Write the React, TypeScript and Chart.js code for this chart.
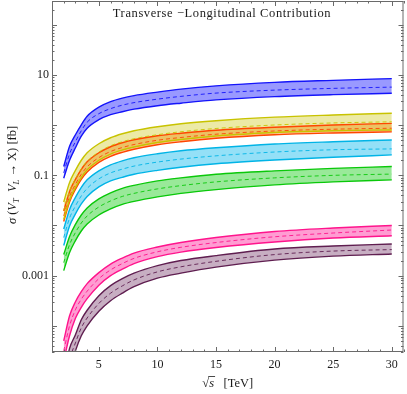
import React, { useEffect, useRef } from "react";
import { Chart, registerables } from "chart.js";

Chart.register(...registerables);

// sqrt(s) in TeV
const energies = [2, 2.5, 3, 3.5, 4, 5, 6, 7, 8, 10, 12, 15, 20, 25, 30];

// cross sections in fb (upper edge, central dashed, lower edge)
const blueUpper = [0.150, 0.380, 0.646, 1.02, 1.51, 2.29, 2.95, 3.47, 3.89, 4.57, 5.25, 6.10, 7.16, 7.85, 8.51];
const blueCenter = [0.112, 0.269, 0.468, 0.776, 1.15, 1.70, 2.14, 2.51, 2.82, 3.31, 3.76, 4.37, 5.01, 5.43, 5.75];
const blueLower = [0.0879, 0.200, 0.355, 0.603, 0.871, 1.29, 1.62, 1.86, 2.09, 2.45, 2.75, 3.20, 3.72, 4.07, 4.33];

const yellowUpper = [0.0295, 0.0724, 0.126, 0.200, 0.282, 0.427, 0.562, 0.676, 0.776, 0.933, 1.07, 1.23, 1.45, 1.60, 1.73];
const yellowCenter = [0.0200, 0.0490, 0.0851, 0.135, 0.191, 0.292, 0.389, 0.468, 0.537, 0.646, 0.741, 0.861, 1.01, 1.11, 1.17];
const yellowLower = [0.0132, 0.0324, 0.0575, 0.0912, 0.129, 0.200, 0.266, 0.320, 0.367, 0.452, 0.519, 0.610, 0.716, 0.776, 0.805];

const orangeUpper = [0.0195, 0.0479, 0.0832, 0.132, 0.186, 0.282, 0.372, 0.447, 0.513, 0.617, 0.692, 0.794, 0.912, 1.01, 1.09];
const orangeCenter = [0.0155, 0.0380, 0.0661, 0.105, 0.148, 0.226, 0.299, 0.359, 0.412, 0.501, 0.569, 0.661, 0.767, 0.832, 0.871];
const orangeLower = [0.0120, 0.0295, 0.0525, 0.0832, 0.117, 0.182, 0.240, 0.288, 0.331, 0.407, 0.468, 0.550, 0.646, 0.700, 0.735];

const cyanUpper = [0.00851, 0.0209, 0.0363, 0.0575, 0.0813, 0.123, 0.162, 0.195, 0.224, 0.269, 0.309, 0.355, 0.422, 0.468, 0.508];
const cyanCenter = [0.00575, 0.0141, 0.0245, 0.0389, 0.0550, 0.0851, 0.112, 0.133, 0.153, 0.184, 0.211, 0.245, 0.292, 0.324, 0.337];
const cyanLower = [0.00398, 0.00977, 0.0170, 0.0269, 0.0380, 0.0589, 0.0776, 0.0912, 0.105, 0.126, 0.145, 0.170, 0.202, 0.229, 0.256];

const greenUpper = [0.00263, 0.00603, 0.0105, 0.0162, 0.0224, 0.0339, 0.0447, 0.0550, 0.0631, 0.0776, 0.0891, 0.105, 0.123, 0.138, 0.150];
const greenCenter = [0.00182, 0.00417, 0.00724, 0.0112, 0.0155, 0.0234, 0.0309, 0.0380, 0.0437, 0.0537, 0.0624, 0.0741, 0.0891, 0.100, 0.106];
const greenLower = [0.00126, 0.00288, 0.00501, 0.00776, 0.0107, 0.0162, 0.0214, 0.0263, 0.0302, 0.0372, 0.0437, 0.0519, 0.0646, 0.0741, 0.0813];

const pinkUpper = [5.01e-5, 1.58e-4, 3.02e-4, 4.79e-4, 6.92e-4, 1.15e-3, 1.70e-3, 2.24e-3, 2.82e-3, 3.72e-3, 4.57e-3, 5.75e-3, 7.59e-3, 8.91e-3, 0.0100];
const pinkCenter = [3.16e-5, 1.0e-4, 2.09e-4, 3.39e-4, 4.90e-4, 8.71e-4, 1.30e-3, 1.74e-3, 2.21e-3, 2.99e-3, 3.67e-3, 4.57e-3, 5.96e-3, 7.08e-3, 8.13e-3];
const pinkLower = [2.0e-5, 6.31e-5, 1.41e-4, 2.34e-4, 3.47e-4, 6.46e-4, 1.0e-3, 1.35e-3, 1.74e-3, 2.40e-3, 2.95e-3, 3.63e-3, 4.68e-3, 5.62e-3, 6.25e-3];

const purpleUpper = [1.0e-5, 3.55e-5, 6.61e-5, 1.32e-4, 2.04e-4, 3.98e-4, 6.31e-4, 8.71e-4, 1.12e-3, 1.58e-3, 2.0e-3, 2.51e-3, 3.39e-3, 3.89e-3, 4.27e-3];
const purpleCenter = [6.31e-6, 2.14e-5, 4.57e-5, 9.12e-5, 1.43e-4, 2.79e-4, 4.47e-4, 6.24e-4, 8.22e-4, 1.19e-3, 1.50e-3, 1.93e-3, 2.63e-3, 3.09e-3, 3.31e-3];
const purpleLower = [3.98e-6, 1.26e-5, 3.16e-5, 6.31e-5, 1.0e-4, 1.95e-4, 3.16e-4, 4.47e-4, 6.03e-4, 8.91e-4, 1.12e-3, 1.48e-3, 2.04e-3, 2.45e-3, 2.70e-3];

const xTickValues = [5, 10, 15, 20, 25, 30];
const yTickValues = [1e-4, 1e-3, 1e-2, 1e-1, 1, 10, 100];
const yTickLabels = ["", "0.001", "", "0.1", "", "10", ""];

const titleText = "Transverse \u2212Longitudinal Contribution";

const bands = [
  { upper: blueUpper, center: blueCenter, lower: blueLower, line: "rgb(20,20,250)", fill: "rgba(0,0,255,0.40)" },
  { upper: yellowUpper, center: yellowCenter, lower: yellowLower, line: "rgb(200,195,0)", fill: "rgba(205,200,20,0.38)" },
  { upper: orangeUpper, center: orangeCenter, lower: orangeLower, line: "rgb(255,70,0)", fill: "rgba(255,100,0,0.42)" },
  { upper: cyanUpper, center: cyanCenter, lower: cyanLower, line: "rgb(0,180,230)", fill: "rgba(0,180,235,0.42)" },
  { upper: greenUpper, center: greenCenter, lower: greenLower, line: "rgb(10,200,10)", fill: "rgba(0,200,0,0.40)" },
  { upper: pinkUpper, center: pinkCenter, lower: pinkLower, line: "rgb(255,20,140)", fill: "rgba(255,20,147,0.42)" },
  { upper: purpleUpper, center: purpleCenter, lower: purpleLower, line: "rgb(95,30,80)", fill: "rgba(100,30,85,0.36)" },
];

const SERIF = '"Liberation Serif", "Times New Roman", serif';

function drawSegments(ctx: CanvasRenderingContext2D, segs: { text: string; font: string; dy?: number }[], cx: number, cy: number) {
  let total = 0;
  for (const s of segs) {
    ctx.font = s.font;
    total += ctx.measureText(s.text).width;
  }
  let x = cx - total / 2;
  for (const s of segs) {
    ctx.font = s.font;
    ctx.fillText(s.text, x, cy + (s.dy || 0));
    x += ctx.measureText(s.text).width;
  }
}

const zeroPadding = (s: any) => {
  s.paddingTop = 0;
  s.paddingBottom = 0;
  s.paddingLeft = 0;
  s.paddingRight = 0;
};

const framePlugin = {
  id: "mmaFrame",
  afterDatasetsDraw(chart: any) {
    const { ctx, chartArea: a, scales } = chart;
    const xs = scales.x;
    const ys = scales.y;
    ctx.save();
    ctx.strokeStyle = "#6a6a6a";
    ctx.lineWidth = 1;
    ctx.strokeRect(a.left + 0.5, a.top + 0.5, a.right - a.left - 1, a.bottom - a.top - 1);
    ctx.beginPath();
    for (let v = 1; v <= 31; v++) {
      const px = Math.round(xs.getPixelForValue(v)) + 0.5;
      const len = v % 5 === 0 ? 5 : 2.5;
      ctx.moveTo(px, a.bottom);
      ctx.lineTo(px, a.bottom - len);
      ctx.moveTo(px, a.top);
      ctx.lineTo(px, a.top + len);
    }
    for (let e = -6; e <= 3; e++) {
      for (let m = 1; m <= 9; m++) {
        const v = m * Math.pow(10, e);
        if (v < ys.min || v > ys.max) continue;
        const py = Math.round(ys.getPixelForValue(v)) + 0.5;
        const len = m === 1 ? 5 : 2.5;
        ctx.moveTo(a.left, py);
        ctx.lineTo(a.left + len, py);
        ctx.moveTo(a.right, py);
        ctx.lineTo(a.right - len, py);
      }
    }
    ctx.stroke();
    ctx.restore();
  },
  afterDraw(chart: any) {
    const { ctx, chartArea: a } = chart;
    ctx.save();
    ctx.fillStyle = "#1a1a1a";
    ctx.textBaseline = "alphabetic";
    // plot title inside frame
    ctx.font = `12.5px ${SERIF}`;
    (ctx as any).letterSpacing = "0.6px";
    ctx.textAlign = "center";
    ctx.fillText(titleText, 222, 17);
    (ctx as any).letterSpacing = "0px";
    ctx.textAlign = "left";
    // y title
    ctx.save();
    ctx.translate(16, 175);
    ctx.rotate(-Math.PI / 2);
    const reg = `12.5px ${SERIF}`;
    const ita = `italic 12.5px ${SERIF}`;
    const sub = `italic 8.5px ${SERIF}`;
    drawSegments(ctx, [
      { text: "\u03c3", font: ita },
      { text: " (", font: reg },
      { text: "V", font: ita },
      { text: "T", font: sub, dy: 3 },
      { text: "  ", font: reg },
      { text: "V", font: ita },
      { text: "L", font: sub, dy: 3 },
      { text: " \u2192 X) [fb]", font: reg },
    ], 0, 0);
    ctx.restore();
    // x title
    const cx = (a.left + a.right) / 2;
    const base = 387;
    const segs = [
      { text: "\u221a", font: reg },
      { text: "s", font: ita },
      { text: "   [TeV]", font: reg },
    ];
    let total = 0;
    const widths: number[] = [];
    for (const s of segs) {
      ctx.font = s.font;
      const w = ctx.measureText(s.text).width;
      widths.push(w);
      total += w;
    }
    let x = cx - total / 2;
    ctx.font = segs[0].font;
    ctx.fillText(segs[0].text, x, base);
    const barStart = x + widths[0] - 1;
    x += widths[0];
    ctx.font = segs[1].font;
    ctx.fillText(segs[1].text, x, base);
    const barEnd = x + widths[1] + 1;
    x += widths[1];
    ctx.font = segs[2].font;
    ctx.fillText(segs[2].text, x, base);
    ctx.strokeStyle = "#1a1a1a";
    ctx.lineWidth = 0.8;
    ctx.beginPath();
    ctx.moveTo(barStart, base - 10.5);
    ctx.lineTo(barEnd, base - 10.5);
    ctx.stroke();
    ctx.restore();
  },
};

export default function App() {
  const canvasRef = useRef<HTMLCanvasElement | null>(null);

  useEffect(() => {
    if (!canvasRef.current) return;
    const datasets: any[] = [];
    bands.forEach((b) => {
      const pts = (arr: number[]) => energies.map((e, i) => ({ x: e, y: arr[i] }));
      datasets.push({
        data: pts(b.upper),
        borderColor: b.line,
        borderWidth: 1.4,
        pointRadius: 0,
        fill: false,
        cubicInterpolationMode: "monotone",
      });
      datasets.push({
        data: pts(b.lower),
        borderColor: b.line,
        borderWidth: 1.4,
        pointRadius: 0,
        fill: "-1",
        backgroundColor: b.fill,
        cubicInterpolationMode: "monotone",
      });
      datasets.push({
        data: pts(b.center),
        borderColor: b.line,
        borderWidth: 0.9,
        borderDash: [4, 3],
        pointRadius: 0,
        fill: false,
        cubicInterpolationMode: "monotone",
      });
    });

    const chart = new Chart(canvasRef.current, {
      type: "line",
      data: { datasets },
      options: {
        responsive: false,
        animation: false,
        devicePixelRatio: 1,
        layout: { padding: { top: 1, right: 3.5, left: 0, bottom: 0 } },
        plugins: {
          legend: { display: false },
          tooltip: { enabled: false },
          filler: { drawTime: "beforeDatasetsDraw" },
        },
        scales: {
          x: {
            type: "linear",
            min: 1,
            max: 31,
            grid: { display: false, drawTicks: false },
            border: { display: false },
            afterBuildTicks: (s: any) => {
              s.ticks = xTickValues.map((v) => ({ value: v }));
            },
            afterFit: (s: any) => {
              s.height = 42;
              zeroPadding(s);
            },
            ticks: {
              autoSkip: false,
              maxRotation: 0,
              padding: 6,
              color: "#1a1a1a",
              font: { family: SERIF, size: 12 },
              callback: (v: any) => String(v),
            },
          },
          y: {
            type: "logarithmic",
            min: 3e-5,
            max: 300,
            grid: { display: false, drawTicks: false },
            border: { display: false },
            afterBuildTicks: (s: any) => {
              s.ticks = yTickValues.map((v) => ({ value: v }));
            },
            afterFit: (s: any) => {
              s.width = 52;
              zeroPadding(s);
            },
            ticks: {
              autoSkip: false,
              padding: 3,
              color: "#1a1a1a",
              font: { family: SERIF, size: 12 },
              callback: (v: any) => {
                const i = yTickValues.findIndex((t) => Math.abs(Math.log10(t) - Math.log10(Number(v))) < 1e-6);
                return i >= 0 ? yTickLabels[i] : "";
              },
            },
          },
        },
      },
      plugins: [framePlugin],
    } as any);
    return () => chart.destroy();
  }, []);

  return (
    <div style={{ position: "fixed", left: 0, top: 0, width: 407, height: 394, background: "#fff" }}>
      <canvas ref={canvasRef} width={407} height={394} style={{ display: "block" }} />
    </div>
  );
}
